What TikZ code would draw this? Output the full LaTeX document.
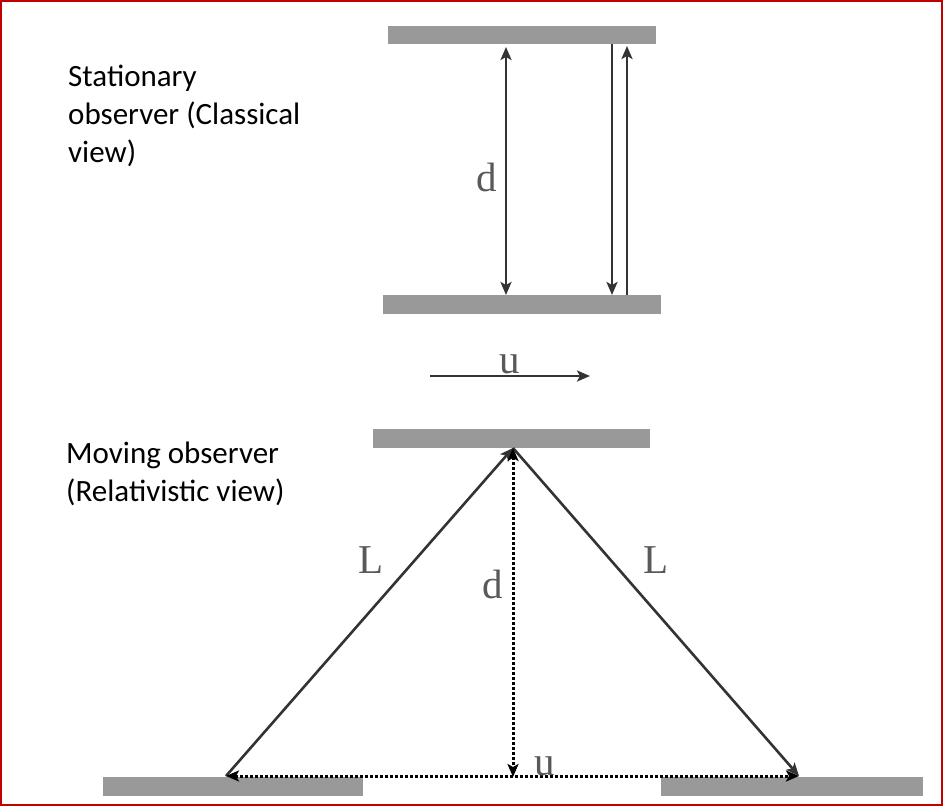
\documentclass[tikz,border=0pt]{standalone}
\usepackage{fontspec}
\setmainfont{Carlito}
\newfontfamily\lblfont{Liberation Serif}
\usepackage{tikz}
\usetikzlibrary{positioning}
\usetikzlibrary{arrows.meta}
\tikzset{
  mirror_n/.style = {rectangle, fill=black!40, draw=none, inner sep=0pt,
    minimum height=19pt},
  lbl_n/.style = {text=black!65, inner sep=0pt,
    font=\lblfont\fontsize{41}{41}\selectfont},
  obs_n/.style = {align=left, anchor=north west, inner sep=0pt,
    font=\fontsize{31}{38}\selectfont},
  ray/.style = {draw=black!80, line width=2.6pt},
  ray_d/.style = {ray, draw=black, line width=3pt, dash pattern=on 2.5pt off 2.5pt},
}

\begin{document}
\begin{tikzpicture}[x=1pt,y=-1pt,>={Stealth[length=13pt,width=11pt,inset=3pt]}]
\useasboundingbox (0,0) rectangle (943,806);
\draw[red!75!black, line width=2pt] (1,1) rectangle (942,805);
% classical view
\node [obs_n] (obs_1) at (68,65) {Stationary\\observer (Classical\\view)};
\node [mirror_n, minimum width=268pt, minimum height=18pt] (m_1) at (522,35) {};
\node [mirror_n, minimum width=278pt] (m_2) at (522,304.5) {};
\coordinate (d_1) at (506,47);
\coordinate (d_2) at (506,295);
\coordinate (r_1) at (612,44);
\coordinate (r_2) at (612,295);
\coordinate (r_3) at (627,295);
\coordinate (r_4) at (627,46);
\draw [ray,<->] (d_1) -- (d_2);
\draw [ray,->] (r_1) -- (r_2);
\draw [ray,->] (r_3) -- (r_4);
\node [lbl_n, anchor=base] (d_l1) at (487,191) {d};
% velocity
\coordinate (u_1) at (430,376);
\coordinate (u_2) at (590,376);
\draw [ray,->] (u_1) -- (u_2);
\node [lbl_n, anchor=base] (u_l1) at (510,373) {u};
% relativistic view
\node [obs_n] (obs_2) at (66,442) {Moving observer\\(Relativistic view)};
\node [mirror_n, minimum width=277pt] (m_3) at (511.5,438.5) {};
\node [mirror_n, minimum width=260pt] (m_4) at (233,786.5) {};
\node [mirror_n, minimum width=262pt] (m_5) at (792,786.5) {};
\coordinate (a) at (513,448);
\coordinate (b_l) at (226,776);
\coordinate (b_m) at (513,777);
\coordinate (b_r) at (799,776);
\draw [ray,->] (b_l) -- (a);
\draw [ray,->] (a) -- (b_r);
\draw [ray_d,<->] (a) -- (b_m);
\draw [ray_d,<->] (b_l) -- (b_r);
\node [lbl_n, anchor=base] (L_l) at (371,573) {L};
\node [lbl_n, anchor=base] (L_r) at (656,573) {L};
\node [lbl_n, anchor=base] (d_l2) at (493,598) {d};
\node [lbl_n, anchor=base] (u_l2) at (545,775) {u};
\end{tikzpicture}
\end{document}
